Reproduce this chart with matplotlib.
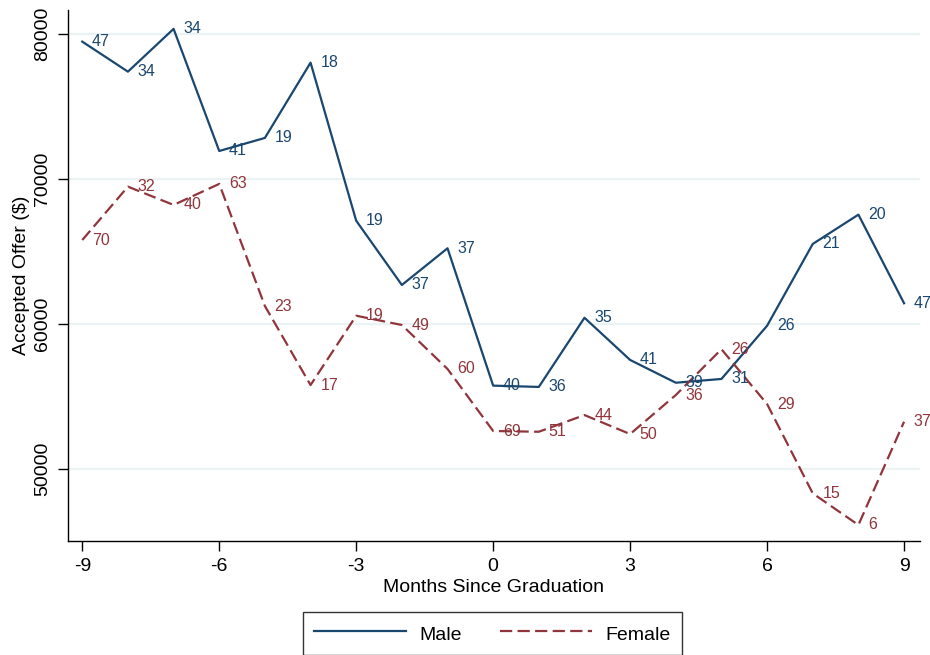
import numpy as np
import matplotlib
matplotlib.use("Agg")
import matplotlib.pyplot as plt

plt.rcParams['font.family'] = ['Liberation Sans', 'DejaVu Sans']
plt.rcParams['axes.unicode_minus'] = False

# mean accepted offer by month relative to graduation, with cell counts
months = np.arange(-9, 10)
male_offer = [79470, 77400, 80350, 71930, 72830, 78020, 67120, 62690, 65220, 55750,
              55660, 60430, 57520, 55950, 56210, 59880, 65520, 67540, 61430]
male_n = [47, 34, 34, 41, 19, 18, 19, 37, 37, 40, 36, 35, 41, 39, 31, 26, 21, 20, 47]
female_offer = [65790, 69470, 68210, 69660, 61240, 55790, 60570, 59930, 56900, 52620,
                52570, 53720, 52410, 55100, 58260, 54480, 48320, 46140, 53260]
female_n = [70, 32, 40, 63, 23, 17, 19, 49, 60, 69, 51, 44, 50, 36, 26, 29, 15, 6, 37]

navy = '#1a476f'
maroon = '#90353b'

fig = plt.figure(figsize=(9.3, 6.55), dpi=100)
ax = fig.add_axes([0.0731, 0.174, 0.9159, 0.8107])

ax.plot(months, male_offer, color=navy, lw=1.6, label='Male', zorder=3)
ax.plot(months, female_offer, color=maroon, lw=1.6, dashes=(5.5, 2.4), label='Female', zorder=3)

for x, y, n in zip(months, male_offer, male_n):
    ax.annotate(str(n), (x, y), xytext=(7, 0), textcoords='offset points',
                ha='left', va='center', color=navy, fontsize=11.5)
for x, y, n in zip(months, female_offer, female_n):
    ax.annotate(str(n), (x, y), xytext=(7, 0), textcoords='offset points',
                ha='left', va='center', color=maroon, fontsize=11.5)

ax.set_xlim(-9.313, 9.344)
ax.set_ylim(45034, 81650)
ax.set_xticks([-9, -6, -3, 0, 3, 6, 9])
ax.set_yticks([50000, 60000, 70000, 80000])
ax.yaxis.grid(True, color='#eaf2f3', lw=1.6, zorder=0)
ax.set_axisbelow(True)

for side in ['top', 'right']:
    ax.spines[side].set_visible(False)
for side in ['left', 'bottom']:
    ax.spines[side].set_linewidth(1.0)
    ax.spines[side].set_color('black')

ax.tick_params(axis='both', direction='out', length=7, width=1.0, labelsize=14, pad=5)
ax.tick_params(axis='y', labelrotation=90)
for lbl in ax.get_yticklabels():
    lbl.set_va('center')

ax.set_xlabel('Months Since Graduation', fontsize=14, labelpad=3)
ax.set_ylabel('Accepted Offer ($)', fontsize=14, labelpad=3)

leg = fig.legend(loc='upper center', bbox_to_anchor=(492.5 / 930, 1 - 612 / 655), ncol=2,
                 fontsize=14, frameon=True, fancybox=False, edgecolor='black',
                 handlelength=4.7, handletextpad=0.72, columnspacing=1.96,
                 handleheight=1.3, borderpad=0.55, borderaxespad=0)
leg.get_frame().set_linewidth(1.0)

fig.savefig('out.png', dpi=100)
